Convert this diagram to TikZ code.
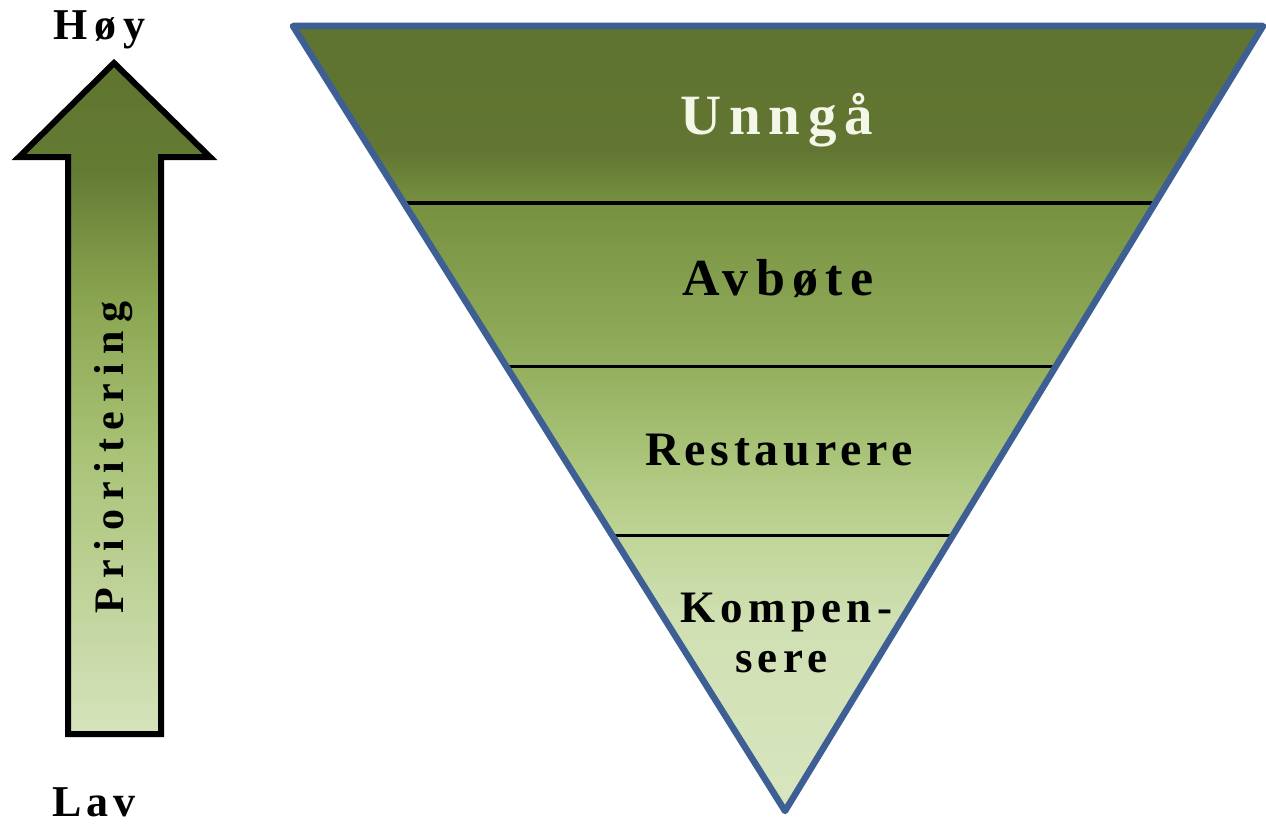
\documentclass[tikz,border=0pt]{standalone}
\usepackage{fontspec}
\setmainfont{Liberation Serif}
\newfontfamily\spHoy[LetterSpace=16]{Liberation Serif}
\newfontfamily\spLav[LetterSpace=12]{Liberation Serif}
\newfontfamily\spUnn[LetterSpace=14]{Liberation Serif}
\newfontfamily\spAvb[LetterSpace=14]{Liberation Serif}
\newfontfamily\spRes[LetterSpace=10]{Liberation Serif}
\newfontfamily\spKom[LetterSpace=12]{Liberation Serif}
\newfontfamily\spPri[LetterSpace=21]{Liberation Serif}
\usetikzlibrary{calc}
\definecolor{tA}{HTML}{5F7430}
\definecolor{tB}{HTML}{627532}
\definecolor{tC}{HTML}{75903F}
\definecolor{tD}{HTML}{92AD5B}
\definecolor{tE}{HTML}{A8C377}
\definecolor{tF}{HTML}{C0D598}
\definecolor{tG}{HTML}{D0E0B3}
\definecolor{tH}{HTML}{D8E5BE}
\definecolor{aA}{HTML}{5F752F}
\definecolor{aB}{HTML}{647B34}
\definecolor{aM}{HTML}{8AA550}
\definecolor{aC}{HTML}{A8C276}
\definecolor{aD}{HTML}{D6E3BC}
\definecolor{triborder}{HTML}{3E5F94}
\definecolor{lighttext}{HTML}{F4F6E8}
\pgfdeclareverticalshading{trishade}{100bp}{color(0bp)=(tH); color(25bp)=(tH); color(37.2bp)=(tG); color(42.3bp)=(tF); color(48bp)=(tE); color(53.8bp)=(tD); color(63.9bp)=(tC); color(67.1bp)=(tB); color(75bp)=(tA); color(100bp)=(tA)}
\pgfdeclareverticalshading{arrshade}{100bp}{color(0bp)=(aD); color(25bp)=(aD); color(46.2bp)=(aC); color(57.3bp)=(aM); color(67bp)=(aB); color(75bp)=(aA); color(100bp)=(aA)}
\tikzset{
  lbl/.style={inner sep=0pt, outer sep=0pt, anchor=base west, text=black, font=\bfseries},
  sepline/.style={draw=black, line width=3.5pt},
}
\begin{document}
\begin{tikzpicture}[x=1pt,y=-1pt]
\useasboundingbox (0,0) rectangle (1266,824);
% triangle
\coordinate (TL) at (293,26);
\coordinate (TR) at (1263,26);
\coordinate (AP) at (785,811);
\path[shading=trishade] (TL) -- (TR) -- (AP) -- cycle;
\coordinate (s1l) at ($(TL)!0.2252!(AP)$);
\coordinate (s1r) at ($(TR)!0.2252!(AP)$);
\coordinate (s2l) at ($(TL)!0.4338!(AP)$);
\coordinate (s2r) at ($(TR)!0.4338!(AP)$);
\coordinate (s3l) at ($(TL)!0.6489!(AP)$);
\coordinate (s3r) at ($(TR)!0.6489!(AP)$);
\draw[sepline] (s1l) -- (s1r);
\draw[sepline] (s2l) -- (s2r);
\draw[sepline] (s3l) -- (s3r);
\draw[triborder, line width=6.5pt, line join=round] (TL) -- (TR) -- (AP) -- cycle;
% arrow
\coordinate (ar1) at (114,63);
\coordinate (ar2) at (210,157);
\coordinate (ar3) at (161,157);
\coordinate (ar4) at (161,734);
\coordinate (ar5) at (68,734);
\coordinate (ar6) at (68,157);
\coordinate (ar7) at (19,157);
\path[shading=arrshade] (ar1) -- (ar2) -- (ar3) -- (ar4) -- (ar5) -- (ar6) -- (ar7) -- cycle;
\draw[black, line width=6pt, line join=miter] (ar1) -- (ar2) -- (ar3) -- (ar4) -- (ar5) -- (ar6) -- (ar7) -- cycle;
% texts
\node[lbl, font=\spHoy\bfseries\fontsize{44}{48}\selectfont] (hoy) at (53,40) {Høy};
\node[lbl, font=\spLav\bfseries\fontsize{44}{48}\selectfont] (lav) at (52,816) {Lav};
\node[lbl, rotate=90, font=\spPri\bfseries\fontsize{42}{46}\selectfont] (pri) at (123,613) {Prioritering};
\node[lbl, text=lighttext, font=\spUnn\bfseries\fontsize{57}{60}\selectfont] (unnga) at (680,135) {Unngå};
\node[lbl, font=\spAvb\bfseries\fontsize{52}{56}\selectfont] (avbote) at (682,295) {Avbøte};
\node[lbl, font=\spRes\bfseries\fontsize{48}{52}\selectfont] (rest) at (645,465) {Restaurere};
\node[lbl, font=\spKom\bfseries\fontsize{45}{50}\selectfont] (komp) at (680,622) {Kompen-};
\node[lbl, font=\spKom\bfseries\fontsize{45}{50}\selectfont] (sere) at (735,672) {sere};
\end{tikzpicture}
\end{document}
